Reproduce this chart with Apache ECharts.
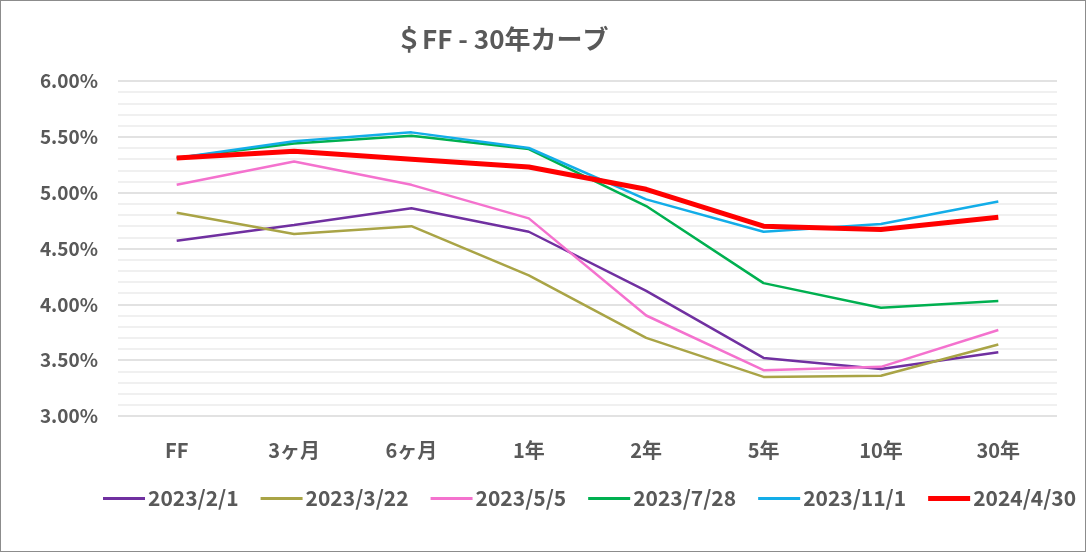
<!DOCTYPE html>
<html>
<head>
<meta charset="utf-8">
<script src="https://cdn.jsdelivr.net/npm/echarts@6/dist/echarts.min.js"></script>
<style>
  html, body { margin: 0; padding: 0; background: #fff; }
  #chart { width: 1084px; height: 550px; border: 1px solid #8c8c8c; }
</style>
</head>
<body>
<div id="chart"></div>
<script>
// 年限カテゴリ
const tenors = ['FF', '3ヶ月', '6ヶ月', '1年', '2年', '5年', '10年', '30年'];
// 利回り (%)
const d20230201 = [4.57, 4.71, 4.86, 4.65, 4.12, 3.52, 3.42, 3.57];
const d20230322 = [4.82, 4.63, 4.70, 4.26, 3.70, 3.35, 3.36, 3.64];
const d20230505 = [5.07, 5.28, 5.07, 4.77, 3.90, 3.41, 3.44, 3.77];
const d20230728 = [5.31, 5.44, 5.51, 5.39, 4.88, 4.19, 3.97, 4.03];
const d20231101 = [5.31, 5.46, 5.54, 5.40, 4.94, 4.65, 4.72, 4.92];
const d20240430 = [5.31, 5.37, 5.30, 5.23, 5.03, 4.70, 4.67, 4.78];
const seriesNames = ['2023/2/1', '2023/3/22', '2023/5/5', '2023/7/28', '2023/11/1', '2024/4/30'];
const yTicks = { min: 3, max: 6, step: 0.5 };

const font = '"Noto Sans CJK JP", "Noto Sans", sans-serif';
const textColor = '#595959';

function line(name, data, color, width) {
  return {
    name: name,
    type: 'line',
    data: data,
    symbol: 'none',
    smooth: false,
    lineStyle: { color: color, width: width },
    itemStyle: { color: color }
  };
}

// 凡例アイコン（線のみ）
const thinIcon = 'path://M0,0 H42 V3 H0 Z';
const thickIcon = 'path://M0,0 H42 V5 H0 Z';

const chart = echarts.init(document.getElementById('chart'), null, { renderer: 'canvas' });

chart.setOption({
  animation: false,
  backgroundColor: '#fff',
  title: {
    text: '＄FF - 30年カーブ',
    left: 390,
    top: 20,
    textStyle: { fontFamily: font, fontSize: 26, fontWeight: 'bold', color: textColor }
  },
  grid: { left: 117, right: 28, top: 80, bottom: 135, containLabel: false },
  legend: {
    left: 102,
    top: 487,
    width: 1000,
    padding: 0,
    itemWidth: 42,
    itemHeight: 14,
    itemGap: 22,
    textStyle: { fontFamily: font, fontSize: 21, fontWeight: 'bold', color: textColor, padding: [0, 0, 0, -2] },
    data: seriesNames.map((n, i) => ({ name: n, icon: i === 5 ? thickIcon : thinIcon }))
  },
  xAxis: {
    type: 'category',
    data: tenors,
    boundaryGap: true,
    axisLine: { show: false },
    axisTick: { show: false },
    axisLabel: { margin: 24, fontFamily: font, fontSize: 20, fontWeight: 'bold', color: textColor }
  },
  yAxis: {
    type: 'value',
    min: yTicks.min,
    max: yTicks.max,
    interval: yTicks.step,
    axisLine: { show: false },
    axisTick: { show: false },
    axisLabel: {
      margin: 20,
      fontFamily: font, fontSize: 19, fontWeight: 'bold', color: textColor,
      formatter: v => v.toFixed(2) + '%'
    },
    splitLine: { show: true, lineStyle: { color: '#d9d9d9', width: 1.5 } },
    minorTick: { show: false, splitNumber: 5 },
    minorSplitLine: { show: true, lineStyle: { color: '#ececec', width: 1.5 } }
  },
  series: [
    line(seriesNames[0], d20230201, '#7030A0', 2.5),
    line(seriesNames[1], d20230322, '#A9A446', 2.5),
    line(seriesNames[2], d20230505, '#F472CE', 2.5),
    line(seriesNames[3], d20230728, '#00B050', 2.5),
    line(seriesNames[4], d20231101, '#13ADE8', 2.5),
    line(seriesNames[5], d20240430, '#FF0000', 5)
  ]
});
</script>
</body>
</html>
